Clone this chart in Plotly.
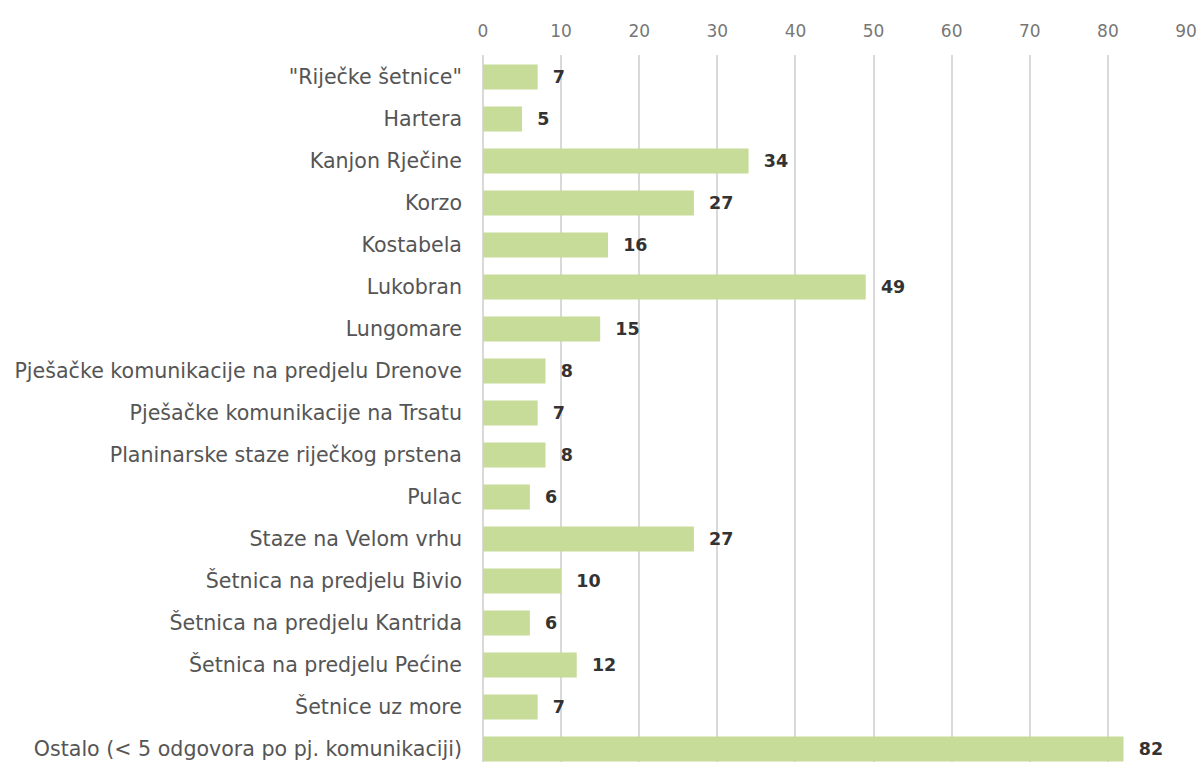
import plotly.graph_objects as go

# ── data ─────────────────────────────────────────────
kategorije = [
    "\"Riječke šetnice\"",
    "Hartera",
    "Kanjon Rječine",
    "Korzo",
    "Kostabela",
    "Lukobran",
    "Lungomare",
    "Pješačke komunikacije na predjelu Drenove",
    "Pješačke komunikacije na Trsatu",
    "Planinarske staze riječkog prstena",
    "Pulac",
    "Staze na Velom vrhu",
    "Šetnica na predjelu Bivio",
    "Šetnica na predjelu Kantrida",
    "Šetnica na predjelu Pećine",
    "Šetnice uz more",
    "Ostalo (< 5 odgovora po pj. komunikaciji)",
]
odgovori = [7, 5, 34, 27, 16, 49, 15, 8, 7, 8, 6, 27, 10, 6, 12, 7, 82]
x_ticks = [0, 10, 20, 30, 40, 50, 60, 70, 80, 90]

FONT = "DejaVu Sans"

fig = go.Figure(go.Bar(
    y=kategorije,
    x=odgovori,
    orientation="h",
    marker=dict(color="#c7dc98", line=dict(width=0)),
    text=odgovori,
    texttemplate="  %{x}",
    textposition="outside",
    cliponaxis=False,
    textfont=dict(family=FONT, size=17.5, color="#333333", weight="bold"),
))

fig.update_layout(
    width=1202, height=762,
    margin=dict(l=483, r=16, t=55, b=0, autoexpand=False),
    paper_bgcolor="white",
    plot_bgcolor="white",
    bargap=0.4,
    showlegend=False,
    font=dict(family=FONT, size=20, color="#555555"),
)
fig.update_xaxes(
    side="top",
    range=[0, 90],
    tickvals=x_ticks,
    showgrid=True,
    gridcolor="#d9d9d9",
    gridwidth=1.5,
    zeroline=True,
    zerolinecolor="#d9d9d9",
    zerolinewidth=1.5,
    showline=False,
    ticks="",
    automargin=False,
    ticklabelstandoff=14,
    tickfont=dict(family=FONT, size=17, color="#777777"),
)
fig.update_yaxes(
    categoryorder="array",
    categoryarray=kategorije,
    range=[16.31, -0.524],
    showgrid=False,
    showline=False,
    ticks="",
    automargin=False,
    ticklabelstandoff=20,
    tickfont=dict(family=FONT, size=20.6, color="#555555"),
)

# drop the default 8px page margin so the figure fills the window without scrollbars
fig.write_html(
    "out.html",
    config={"displayModeBar": False},
    post_script="document.body.style.margin='0';",
)
